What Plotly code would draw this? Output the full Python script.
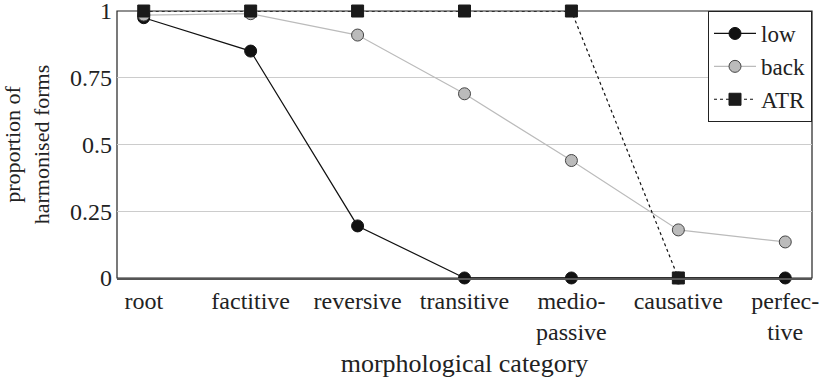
import plotly.graph_objects as go

categories = ["root", "factitive", "reversive", "transitive", "medio-<br>passive", "causative", "perfec-<br>tive"]
low = [0.975, 0.85, 0.195, 0.0, 0.0, 0.0, 0.0]
back = [0.985, 0.99, 0.91, 0.69, 0.44, 0.18, 0.135]
atr = [1.0, 1.0, 1.0, 1.0, 1.0, 0.0, None]
y_ticks = [0, 0.25, 0.5, 0.75, 1]
y_tick_labels = ["0", "0.25", "0.5", "0.75", "1"]

FONT = "'Liberation Serif', 'DejaVu Serif', serif"
TXT = "#222222"

fig = go.Figure()
fig.add_trace(go.Scatter(
    x=categories, y=low, name="low", mode="lines+markers",
    line=dict(color="#111111", width=1.2),
    marker=dict(symbol="circle", size=12, color="#111111", line=dict(color="#111111", width=1)),
    cliponaxis=False,
))
fig.add_trace(go.Scatter(
    x=categories, y=back, name="back", mode="lines+markers",
    line=dict(color="#bbbbbb", width=1.2),
    marker=dict(symbol="circle", size=12, color="#bbbbbb", line=dict(color="#444444", width=1)),
    cliponaxis=False,
))
fig.add_trace(go.Scatter(
    x=categories, y=atr, name="ATR", mode="lines+markers",
    line=dict(color="#111111", width=1.2, dash="dot"),
    marker=dict(symbol="square", size=12, color="#1a1a1a", line=dict(color="#1a1a1a", width=1)),
    cliponaxis=False, connectgaps=False,
))

fig.update_layout(
    width=824, height=378,
    margin=dict(l=117, r=12, t=11, b=100, autoexpand=False),
    paper_bgcolor="white", plot_bgcolor="white",
    font=dict(family=FONT, size=24, color=TXT),
    showlegend=True,
    legend=dict(
        x=1, y=1, xanchor="right", yanchor="top",
        bordercolor="#222222", borderwidth=1, bgcolor="white",
        font=dict(family=FONT, size=23, color=TXT),
        tracegroupgap=0, itemwidth=42,
    ),
    xaxis=dict(
        type="category", range=[-0.25, 6.25], automargin=False,
        showgrid=False, showline=True, linecolor="#555555", linewidth=1.5,
        mirror=False, ticks="", zeroline=False,
        tickfont=dict(family=FONT, size=24, color=TXT),
        title=dict(text="morphological category", font=dict(family=FONT, size=26, color=TXT), standoff=14),
    ),
    yaxis=dict(
        range=[-0.0001, 1.0001], tickvals=y_ticks, ticktext=y_tick_labels, automargin=False,
        ticklabeloverflow="allow", ticklabelstandoff=4,
        showgrid=True, gridcolor="#cccccc", gridwidth=1,
        showline=False, zeroline=False, ticks="",
        tickfont=dict(family=FONT, size=24, color=TXT),
        title=dict(text="proportion of<br>harmonised forms", font=dict(family=FONT, size=22, color=TXT), standoff=15),
    ),
    shapes=[
        dict(type="rect", xref="paper", yref="paper", x0=0, x1=1, y0=0, y1=1,
             line=dict(color="#222222", width=1.2), layer="below", fillcolor="rgba(0,0,0,0)"),
    ],
)

fig.write_html("out.html", config={"displayModeBar": False},
               post_script="document.body.style.margin='0px';document.body.style.padding='0px';")
